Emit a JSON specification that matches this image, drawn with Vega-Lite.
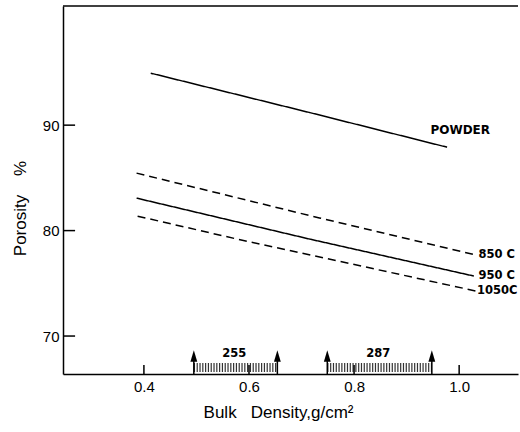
{
  "$schema": "https://vega.github.io/schema/vega-lite/v6.json",
  "autosize": "none",
  "width": 455,
  "height": 368,
  "padding": {"left": 63, "top": 6, "right": 2, "bottom": 58},
  "background": "white",
  "config": {
    "view": {"stroke": null},
    "font": "Liberation Sans",
    "axis": {"domainColor": "black", "labelColor": "black", "titleColor": "black", "grid": false, "domainWidth": 1.5, "ticks": false, "labelFont": "Liberation Sans", "titleFont": "Liberation Sans", "titleFontWeight": "normal"}
  },
  "datasets": {
    "frame": [{"top": 101.3}],
    "xticks": [
      {"x": 0.4, "y": 66.4, "y2": 67.25},
      {"x": 0.6, "y": 66.4, "y2": 67.25},
      {"x": 0.8, "y": 66.4, "y2": 67.25},
      {"x": 1.0, "y": 66.4, "y2": 67.25}
    ],
    "yticks": [
      {"y": 70, "x": 0.246, "x2": 0.269},
      {"y": 80, "x": 0.246, "x2": 0.269},
      {"y": 90, "x": 0.246, "x2": 0.269}
    ],
    "lines": [
      {"series": "POWDER", "x": 0.413, "y": 94.93},
      {"series": "POWDER", "x": 0.715, "y": 91.2},
      {"series": "POWDER", "x": 0.977, "y": 87.91},
      {"series": "850 C", "x": 0.386, "y": 85.45},
      {"series": "850 C", "x": 0.734, "y": 81.2},
      {"series": "850 C", "x": 1.032, "y": 77.68},
      {"series": "950 C", "x": 0.386, "y": 83.08},
      {"series": "950 C", "x": 0.715, "y": 79.2},
      {"series": "950 C", "x": 1.028, "y": 75.69},
      {"series": "1050 C", "x": 0.388, "y": 81.37},
      {"series": "1050 C", "x": 0.577, "y": 79.2},
      {"series": "1050 C", "x": 1.032, "y": 74.27}
    ],
    "powderLabel": [
      {"label": "POWDER", "x": 1.002, "y": 89.53}
    ],
    "tempLabels": [
      {"label": "850 C", "x": 1.037, "y": 77.68},
      {"label": "950 C", "x": 1.037, "y": 75.69},
      {"label": "1050C", "x": 1.034, "y": 74.27}
    ],
    "arrows": [
      {"x": 0.495, "base": 66.4, "tip": 68.1},
      {"x": 0.654, "base": 66.4, "tip": 68.1},
      {"x": 0.749, "base": 66.4, "tip": 68.1},
      {"x": 0.948, "base": 66.4, "tip": 68.1}
    ],
    "ranges": [
      {"label": "255", "x": 0.495, "x2": 0.654, "mid": 0.572, "band": 67.01, "ty": 68.25},
      {"label": "287", "x": 0.749, "x2": 0.948, "mid": 0.846, "band": 67.01, "ty": 68.25}
    ]
  },
  "layer": [
    {
      "data": {"name": "frame"},
      "mark": {"type": "rule", "color": "black", "strokeWidth": 1.5},
      "encoding": {"y": {"field": "top", "type": "quantitative"}}
    },
    {
      "data": {"name": "lines"},
      "mark": {"type": "line", "color": "black", "strokeWidth": 1.5},
      "encoding": {
        "x": {"field": "x", "type": "quantitative", "scale": {"domain": [0.246, 1.112], "nice": false, "zero": false},
          "axis": {"values": [0.4, 0.6, 0.8, 1.0], "format": ".1f", "labelPadding": 5, "labelFontSize": 15,
            "title": "Bulk\u00a0\u00a0\u00a0Density,g/cm²", "titleFontSize": 17, "titleX": 215, "titleY": 38, "titleBaseline": "middle", "titleAlign": "center"}},
        "y": {"field": "y", "type": "quantitative", "scale": {"domain": [66.4, 101.3], "nice": false, "zero": false},
          "axis": {"values": [70, 80, 90], "labelPadding": 4, "labelFontSize": 15,
            "title": "Porosity\u00a0\u00a0\u00a0\u00a0%", "titleFontSize": 17, "titleX": -43, "titleY": 202, "titleBaseline": "middle", "titleAlign": "center", "titleAngle": -90}},
        "detail": {"field": "series"},
        "strokeDash": {"field": "series", "type": "nominal",
          "scale": {"domain": ["POWDER", "850 C", "950 C", "1050 C"], "range": [[1, 0], [8, 5], [1, 0], [8, 5]]}, "legend": null}
      }
    },
    {
      "data": {"name": "xticks"},
      "mark": {"type": "rule", "color": "black", "strokeWidth": 1.5},
      "encoding": {
        "x": {"field": "x", "type": "quantitative"},
        "y": {"field": "y", "type": "quantitative"},
        "y2": {"field": "y2"}
      }
    },
    {
      "data": {"name": "yticks"},
      "mark": {"type": "rule", "color": "black", "strokeWidth": 1.5},
      "encoding": {
        "y": {"field": "y", "type": "quantitative"},
        "x": {"field": "x", "type": "quantitative"},
        "x2": {"field": "x2"}
      }
    },
    {
      "data": {"name": "powderLabel"},
      "mark": {"type": "text", "color": "black", "font": "DejaVu Sans", "fontWeight": "bold", "fontSize": 12, "baseline": "middle", "align": "center"},
      "encoding": {
        "x": {"field": "x", "type": "quantitative"},
        "y": {"field": "y", "type": "quantitative"},
        "text": {"field": "label"}
      }
    },
    {
      "data": {"name": "tempLabels"},
      "mark": {"type": "text", "color": "black", "font": "DejaVu Sans", "fontWeight": "bold", "fontSize": 11.5, "baseline": "middle", "align": "left"},
      "encoding": {
        "x": {"field": "x", "type": "quantitative"},
        "y": {"field": "y", "type": "quantitative"},
        "text": {"field": "label"}
      }
    },
    {
      "data": {"name": "ranges"},
      "mark": {"type": "rule", "color": "black", "strokeWidth": 9, "strokeDash": [1.2, 1.6], "opacity": 0.8},
      "encoding": {
        "x": {"field": "x", "type": "quantitative"},
        "x2": {"field": "x2"},
        "y": {"field": "band", "type": "quantitative"}
      }
    },
    {
      "data": {"name": "arrows"},
      "mark": {"type": "rule", "color": "black", "strokeWidth": 1.5},
      "encoding": {
        "x": {"field": "x", "type": "quantitative"},
        "y": {"field": "base", "type": "quantitative"},
        "y2": {"field": "tip"}
      }
    },
    {
      "data": {"name": "arrows"},
      "mark": {"type": "point", "shape": "M-0.6,1L0.6,1L0,-1Z", "filled": true, "color": "black", "size": 130, "opacity": 1},
      "encoding": {
        "x": {"field": "x", "type": "quantitative"},
        "y": {"field": "tip", "type": "quantitative"}
      }
    },
    {
      "data": {"name": "ranges"},
      "mark": {"type": "text", "color": "black", "font": "DejaVu Sans", "fontWeight": "bold", "fontSize": 11.5, "baseline": "middle", "align": "center"},
      "encoding": {
        "x": {"field": "mid", "type": "quantitative"},
        "y": {"field": "ty", "type": "quantitative"},
        "text": {"field": "label"}
      }
    }
  ]
}
